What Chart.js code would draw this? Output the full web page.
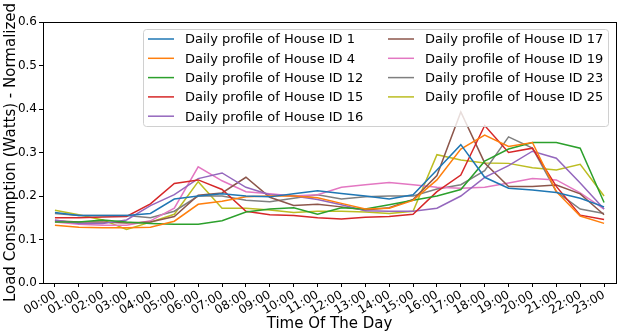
<!DOCTYPE html>
<html>
<head>
<meta charset="utf-8">
<script src="https://cdn.jsdelivr.net/npm/chart.js@4.4.1/dist/chart.umd.min.js"></script>
<style>
  html, body { margin: 0; padding: 0; background: #fff; }
  #wrap { width: 623px; height: 334px; position: relative; }
</style>
</head>
<body>
<div id="wrap"><canvas id="load-chart"></canvas></div>
<script>
// Hours of the day
const hours = ['00:00', '01:00', '02:00', '03:00', '04:00', '05:00', '06:00', '07:00',
    '08:00', '09:00', '10:00', '11:00', '12:00', '13:00', '14:00', '15:00',
    '16:00', '17:00', '18:00', '19:00', '20:00', '21:00', '22:00', '23:00'];

// Normalized daily load profiles
const house1 = [0.162, 0.155, 0.155, 0.155, 0.160, 0.193, 0.200, 0.205, 0.200, 0.198, 0.205, 0.212,
    0.206, 0.200, 0.193, 0.203, 0.260, 0.318, 0.243, 0.218, 0.214, 0.208, 0.195, 0.175];
const house4 = [0.133, 0.128, 0.127, 0.127, 0.128, 0.142, 0.181, 0.188, 0.198, 0.200, 0.200, 0.196,
    0.183, 0.170, 0.172, 0.190, 0.237, 0.308, 0.340, 0.314, 0.323, 0.210, 0.154, 0.137];
const house12 = [0.140, 0.140, 0.145, 0.140, 0.137, 0.135, 0.135, 0.143, 0.163, 0.170, 0.173, 0.158,
    0.173, 0.170, 0.180, 0.190, 0.200, 0.215, 0.280, 0.308, 0.323, 0.323, 0.310, 0.185];
const house15 = [0.150, 0.150, 0.152, 0.153, 0.182, 0.229, 0.237, 0.215, 0.165, 0.157, 0.155, 0.150,
    0.147, 0.151, 0.153, 0.158, 0.210, 0.248, 0.362, 0.300, 0.310, 0.222, 0.156, 0.146];
const house16 = [0.145, 0.137, 0.137, 0.145, 0.178, 0.203, 0.240, 0.253, 0.220, 0.203, 0.200, 0.192,
    0.180, 0.166, 0.165, 0.165, 0.172, 0.200, 0.243, 0.270, 0.303, 0.287, 0.230, 0.170];
const house17 = [0.143, 0.140, 0.140, 0.138, 0.140, 0.153, 0.202, 0.207, 0.243, 0.197, 0.178, 0.181,
    0.175, 0.168, 0.173, 0.192, 0.247, 0.393, 0.276, 0.222, 0.222, 0.225, 0.205, 0.157];
const house19 = [0.140, 0.135, 0.133, 0.133, 0.143, 0.172, 0.267, 0.235, 0.210, 0.205, 0.200, 0.203,
    0.220, 0.226, 0.231, 0.226, 0.220, 0.218, 0.220, 0.230, 0.240, 0.237, 0.207, 0.170];
const house23 = [0.160, 0.155, 0.155, 0.155, 0.150, 0.165, 0.200, 0.200, 0.190, 0.187, 0.195, 0.203,
    0.193, 0.198, 0.200, 0.200, 0.216, 0.226, 0.258, 0.336, 0.310, 0.210, 0.170, 0.160];
const house25 = [0.167, 0.157, 0.145, 0.123, 0.140, 0.158, 0.233, 0.172, 0.172, 0.168, 0.162, 0.165,
    0.165, 0.163, 0.160, 0.165, 0.295, 0.283, 0.276, 0.275, 0.265, 0.260, 0.273, 0.200];

const houseIds = [1, 4, 12, 15, 16, 17, 19, 23, 25];
const profiles = [house1, house4, house12, house15, house16, house17, house19, house23, house25];
const colors = ['#1f77b4', '#ff7f0e', '#2ca02c', '#d62728', '#9467bd',
    '#8c564b', '#e377c2', '#7f7f7f', '#bcbd22'];

const FONT = 'DejaVu Sans';

// Axes box like matplotlib spines
const frameBox = {
    id: 'frameBox',
    afterDatasetsDraw(chart) {
        const { ctx, chartArea: a } = chart;
        ctx.save();
        ctx.strokeStyle = '#000';
        ctx.lineWidth = 1;
        ctx.strokeRect(Math.round(a.left) + 0.5, Math.round(a.top) + 0.5,
            Math.round(a.right - a.left), Math.round(a.bottom - a.top));
        ctx.restore();
    }
};

// Two column legend, column-major, in the upper right of the axes
const boxLegend = {
    id: 'boxLegend',
    afterDatasetsDraw(chart) {
        const { ctx, chartArea: a } = chart;
        const sets = chart.data.datasets;
        const perCol = Math.ceil(sets.length / 2);
        const x0 = 143, y0 = 29, w = a.right - 8 - x0, h = 97;
        const rowH = 19.3, colW = 240;
        ctx.save();
        ctx.fillStyle = 'rgba(255,255,255,0.8)';
        ctx.strokeStyle = '#d0d0d0';
        ctx.lineWidth = 1;
        ctx.beginPath();
        ctx.roundRect(x0 + 0.5, y0 + 0.5, w, h, 3);
        ctx.fill();
        ctx.stroke();
        ctx.font = '13px "' + FONT + '"';
        ctx.textBaseline = 'middle';
        sets.forEach((ds, i) => {
            const col = Math.floor(i / perCol);
            const row = i % perCol;
            const lx = x0 + 5 + col * colW;
            const ly = y0 + 10 + row * rowH;
            ctx.strokeStyle = ds.borderColor;
            ctx.lineWidth = 1.5;
            ctx.beginPath();
            ctx.moveTo(lx, ly);
            ctx.lineTo(lx + 26, ly);
            ctx.stroke();
            ctx.fillStyle = '#000';
            ctx.fillText(ds.label, lx + 37, ly + 1);
        });
        ctx.restore();
    }
};

new Chart(document.getElementById('load-chart'), {
    type: 'line',
    data: {
        labels: hours,
        datasets: profiles.map((vals, i) => ({
            label: 'Daily profile of House ID ' + houseIds[i],
            data: vals,
            borderColor: colors[i],
            backgroundColor: colors[i],
            borderWidth: 1.5,
            pointRadius: 0,
            tension: 0,
            fill: false
        }))
    },
    options: {
        responsive: true,
        maintainAspectRatio: false,
        animation: false,
        layout: { padding: { top: 22, right: 7, left: 2, bottom: 1 } },
        plugins: {
            legend: { display: false },
            tooltip: { enabled: false }
        },
        scales: {
            x: {
                offset: true,
                border: { display: false },
                grid: { drawOnChartArea: false, drawTicks: true, tickLength: 4, color: '#000', offset: false },
                afterFit: scale => { scale.height = 50; },
                ticks: {
                    color: '#000',
                    font: { family: FONT, size: 12 },
                    minRotation: 30,
                    maxRotation: 30,
                    autoSkip: false,
                    padding: 1
                },
                title: {
                    display: true,
                    text: 'Time Of The Day',
                    color: '#000',
                    font: { family: FONT, size: 15 },
                    padding: { top: 0, bottom: 0 }
                }
            },
            y: {
                min: 0,
                max: 0.6,
                border: { display: false },
                grid: { drawOnChartArea: false, drawTicks: true, tickLength: 4, color: '#000' },
                afterFit: scale => { scale.width = 41; },
                ticks: {
                    stepSize: 0.1,
                    color: '#000',
                    font: { family: FONT, size: 12 },
                    padding: 2,
                    callback: v => v.toFixed(1)
                },
                title: {
                    display: true,
                    text: 'Load Consumption (Watts) - Normalized',
                    color: '#000',
                    font: { family: FONT, size: 15 },
                    padding: { top: 0, bottom: 0 }
                }
            }
        }
    },
    plugins: [frameBox, boxLegend]
});
</script>
</body>
</html>
